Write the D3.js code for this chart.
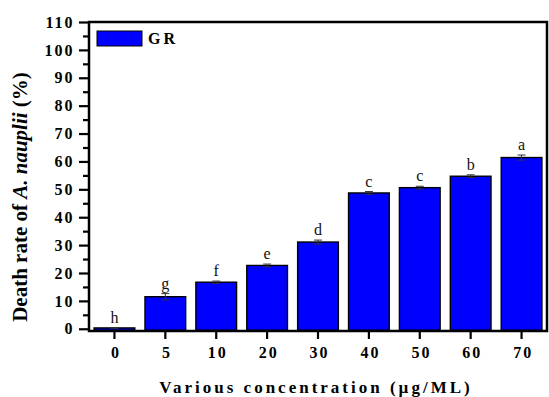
<!DOCTYPE html>
<html>
<head>
<meta charset="utf-8">
<script src="https://cdn.jsdelivr.net/npm/d3@7"></script>
<style>
body { margin: 0; background: #fff; }
svg text { font-family: "Liberation Serif", "Times New Roman", serif; }
</style>
</head>
<body>
<div id="wrapper"></div>
<script>
// data
const concentrations = ["0", "5", "10", "20", "30", "40", "50", "60", "70"]
const deathRate = [0.3, 11.5, 16.7, 22.7, 31.1, 48.7, 50.6, 54.7, 61.4]
const errors = [0.1, 1.1, 0.4, 0.5, 0.7, 0.5, 0.5, 0.5, 0.9]
const letters = ["h", "g", "f", "e", "d", "c", "c", "b", "a"]
const yTicks = [0, 10, 20, 30, 40, 50, 60, 70, 80, 90, 100, 110]
const seriesName = "GR"

const dat = concentrations.map((c, i) => ({c: c, v: deathRate[i], e: errors[i], l: letters[i]}))

let dimensions = {width: 549, height: 397, margin: {top: 22, right: 2, left: 89, bottom: 66}}
const boundWidth = dimensions.width - dimensions.margin.left - dimensions.margin.right
const boundHeight = dimensions.height - dimensions.margin.top - dimensions.margin.bottom

var wrapper = d3.select("#wrapper").append("svg")
  .attr("width", dimensions.width)
  .attr("height", dimensions.height)
var bounds = wrapper.append("g")
  .attr("transform", `translate(${dimensions.margin.left},${dimensions.margin.top})`)

//Scales
var xScale = d3.scaleBand()
  .domain(concentrations)
  .range([0, boundWidth])
  .paddingInner(0.2)
  .paddingOuter(0.1)
var yScale = d3.scaleLinear()
  .domain([-0.8, 110])
  .range([boundHeight, 0])

//Bars
bounds.selectAll("rect.bar")
  .data(dat)
  .enter().append("rect")
    .attr("class", "bar")
    .attr("x", d => xScale(d.c))
    .attr("width", xScale.bandwidth())
    .attr("y", d => yScale(d.v))
    .attr("height", d => yScale(0) - yScale(d.v) + 1.5)
    .attr("fill", "#0000ff")
    .attr("stroke", "#000")
    .attr("stroke-width", 1.4)

//Error bars
var err = bounds.selectAll("g.err").data(dat).enter().append("g")
  .attr("class", "err")
  .attr("transform", d => `translate(${xScale(d.c) + xScale.bandwidth() / 2},0)`)
err.append("line")
  .attr("y1", d => yScale(d.v - d.e)).attr("y2", d => yScale(d.v + d.e))
  .attr("stroke", "#333").attr("stroke-width", 1)
err.append("line")
  .attr("x1", -4).attr("x2", 4)
  .attr("y1", d => yScale(d.v + d.e)).attr("y2", d => yScale(d.v + d.e))
  .attr("stroke", "#333").attr("stroke-width", 1)
err.append("line")
  .attr("x1", -4).attr("x2", 4)
  .attr("y1", d => yScale(d.v - d.e)).attr("y2", d => yScale(d.v - d.e))
  .attr("stroke", "#333").attr("stroke-width", 1)
err.append("text")
  .attr("y", d => yScale(d.v + d.e) - 5)
  .attr("text-anchor", "middle")
  .style("font-size", "16px")
  .attr("fill", "#111")
  .text(d => d.l)

//Axes
var yAxisGenerator = d3.axisLeft(yScale)
  .tickValues(yTicks)
  .tickSize(10)
  .tickPadding(6)
var yMinor = d3.axisLeft(yScale)
  .tickValues(yTicks.slice(0, -1).map(t => t + 5))
  .tickSize(6)
  .tickFormat("")
var xAxisGenerator = d3.axisBottom(xScale)
  .tickSize(8)
  .tickPadding(6)

var yAxis = bounds.append("g").call(yAxisGenerator)
bounds.append("g").call(yMinor)
var xAxis = bounds.append("g")
  .attr("transform", `translate(0,${boundHeight})`)
  .call(xAxisGenerator)

bounds.selectAll(".domain").remove()
bounds.selectAll(".tick line").attr("stroke", "#000").attr("stroke-width", 2.2)
bounds.selectAll(".tick text")
  .style("font-size", "16px")
  .style("font-weight", "bold")
  .style("letter-spacing", "2px")
  .attr("fill", "#000")
yAxis.selectAll(".tick text").attr("dx", "0.1em")
xAxis.selectAll(".tick text").attr("dy", "0.8em").attr("dx", "0.1em")

//Frame
bounds.append("rect")
  .attr("x", 0).attr("y", 0)
  .attr("width", boundWidth).attr("height", boundHeight)
  .attr("fill", "none")
  .attr("stroke", "#000")
  .attr("stroke-width", 2.5)

//Legend
var legend = bounds.append("g").attr("transform", "translate(8,9)")
legend.append("rect")
  .attr("width", 45).attr("height", 15)
  .attr("fill", "#0000ff").attr("stroke", "#000").attr("stroke-width", 1)
legend.append("text")
  .attr("x", 51).attr("y", 13)
  .style("font-size", "16px").style("font-weight", "bold")
  .style("letter-spacing", "3px")
  .text(seriesName)

//Axis titles
var yTitle = wrapper.append("text")
  .attr("transform", "translate(27,197) rotate(-90)")
  .attr("text-anchor", "middle")
  .style("font-size", "21px")
  .style("font-weight", "bold")
yTitle.append("tspan").text("Death rate of ")
yTitle.append("tspan").style("font-style", "italic").text("A. nauplii")
yTitle.append("tspan").text(" (%)")

wrapper.append("text")
  .attr("x", 316).attr("y", 393)
  .attr("text-anchor", "middle")
  .style("font-size", "17px")
  .style("font-weight", "bold")
  .style("letter-spacing", "3px")
  .text("Various concentration (µg/ML)")
</script>
</body>
</html>
